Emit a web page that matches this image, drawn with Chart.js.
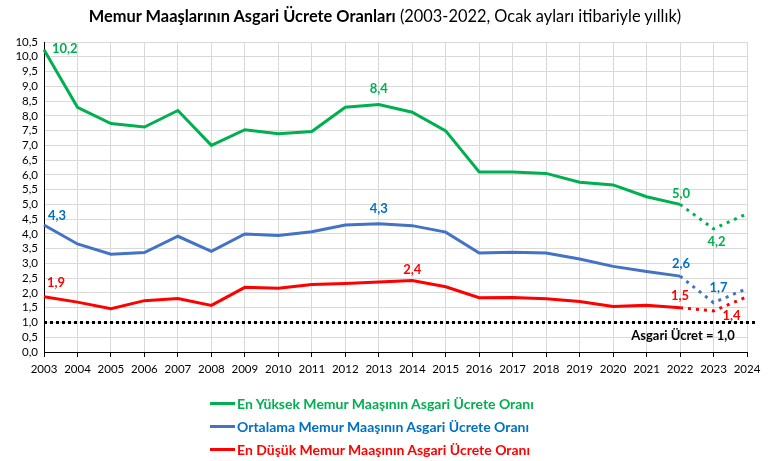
<!DOCTYPE html>
<html lang="tr">
<head>
<meta charset="UTF-8">
<title>Memur Maaşlarının Asgari Ücrete Oranları</title>
<script src="https://cdn.jsdelivr.net/npm/chart.js@4.4.0/dist/chart.umd.min.js"></script>
<style>
    body { margin: 0; background: #fff; font-family: Lato, "Open Sans", sans-serif; }
    #wrap { position: relative; width: 775px; height: 461px; }
    #title { position: absolute; top: 6px; left: 0; width: 770px; text-align: center; font-size: 16.4px; color: #000; white-space: nowrap; }
    #legend { position: absolute; left: 210px; top: 392px; }
    .row { display: flex; align-items: center; height: 23px; font-weight: bold; font-size: 14px; white-space: nowrap; }
    .sw { width: 25px; height: 3px; margin-right: 2px; }
</style>
</head>
<body>
<div id="wrap">
    <canvas id="chart" width="775" height="461"></canvas>
    <div id="title"><b>Memur Maaşlarının Asgari Ücrete Oranları</b> (2003-2022, Ocak ayları itibariyle yıllık)</div>
    <div id="legend">
        <div class="row" style="color:#00B050"><span class="sw" style="background:#00B050"></span>En Yüksek Memur Maaşının Asgari Ücrete Oranı</div>
        <div class="row" style="color:#0070C0"><span class="sw" style="background:#4472C4"></span>Ortalama Memur Maaşının Asgari Ücrete Oranı</div>
        <div class="row" style="color:#FF0000"><span class="sw" style="background:#FF0000"></span>En Düşük Memur Maaşının Asgari Ücrete Oranı</div>
    </div>
</div>
<script>
    // data
    var years = ['2003','2004','2005','2006','2007','2008','2009','2010','2011','2012','2013',
                 '2014','2015','2016','2017','2018','2019','2020','2021','2022','2023','2024'];
    var enYuksek = [10.24, 8.29, 7.74, 7.62, 8.18, 7.0, 7.53, 7.39, 7.47, 8.29, 8.38,
                    8.12, 7.49, 6.1, 6.1, 6.05, 5.75, 5.66, 5.26, 5.0, 4.17, 4.68];
    var ortalama = [4.3, 3.66, 3.31, 3.37, 3.92, 3.41, 4.0, 3.95, 4.07, 4.3, 4.34,
                    4.28, 4.06, 3.35, 3.38, 3.35, 3.15, 2.9, 2.73, 2.57, 1.67, 2.15];
    var enDusuk = [1.87, 1.69, 1.47, 1.74, 1.81, 1.58, 2.19, 2.16, 2.29, 2.32, 2.37,
                   2.42, 2.21, 1.84, 1.85, 1.8, 1.71, 1.54, 1.58, 1.5, 1.39, 1.87];
    var asgariUcret = 1.0;
    var projectionFrom = 19; // 2022 onward is drawn dotted

    // which points carry a value label: [dataset, index]
    var labelPoints = [[0,0],[0,10],[0,19],[0,20],[1,0],[1,10],[1,19],[1,20],[2,0],[2,11],[2,19],[2,20]];
    // label offsets from the point, in pixels
    var labelOffsets = {
        '0-0': [19, -1, 'left'], '0-10': [0, -16], '0-19': [1, -11], '0-20': [3, 13],
        '1-0': [13, -9], '1-10': [0, -15], '1-19': [1, -12], '1-20': [5, -15],
        '2-0': [12, -14], '2-11': [0, -11], '2-19': [0, -12], '2-20': [18, 5]
    };
    var labelColors = ['#00B050', '#0070C0', '#FF0000'];

    function fmt(v) { return v.toFixed(1).replace('.', ','); }

    function dotted(ctx) { return ctx.p0DataIndex >= projectionFrom ? [3, 5] : undefined; }

    var extras = {
        id: 'extras',
        afterDatasetsDraw: function(chart) {
            var c = chart.ctx, area = chart.chartArea, ys = chart.scales.y;
            c.save();
            // asgari ucret reference line
            var yy = ys.getPixelForValue(asgariUcret);
            c.strokeStyle = '#000';
            c.lineWidth = 3;
            c.setLineDash([3, 3]);
            c.beginPath();
            c.moveTo(area.left, yy);
            c.lineTo(area.right + 8, yy);
            c.stroke();
            c.setLineDash([]);
            c.font = 'bold 13px Lato, sans-serif';
            c.fillStyle = '#000';
            c.textAlign = 'center';
            c.textBaseline = 'middle';
            c.fillText('Asgari Ücret = ' + fmt(asgariUcret), area.right - 64, yy + 13);
            // value labels
            labelPoints.forEach(function(p) {
                var meta = chart.getDatasetMeta(p[0]);
                var pt = meta.data[p[1]];
                var off = labelOffsets[p[0] + '-' + p[1]];
                var v = chart.data.datasets[p[0]].data[p[1]];
                c.fillStyle = labelColors[p[0]];
                c.textAlign = off[2] ? off[2] : 'center';
                c.fillText(fmt(v), pt.x + (off[2] ? 8 : off[0]), pt.y + off[1]);
            });
            c.restore();
        }
    };

    new Chart(document.getElementById('chart'), {
        type: 'line',
        data: {
            labels: years,
            datasets: [
                { label: 'En Yüksek Memur Maaşının Asgari Ücrete Oranı', data: enYuksek, borderColor: '#00B050' },
                { label: 'Ortalama Memur Maaşının Asgari Ücrete Oranı', data: ortalama, borderColor: '#4472C4' },
                { label: 'En Düşük Memur Maaşının Asgari Ücrete Oranı', data: enDusuk, borderColor: '#FF0000' }
            ]
        },
        options: {
            responsive: false,
            animation: false,
            devicePixelRatio: 1,
            layout: { padding: { top: 42, left: 0, right: 28, bottom: 79 } },
            elements: {
                line: { borderWidth: 3, tension: 0, fill: false },
                point: { radius: 0 }
            },
            datasets: { line: { segment: { borderDash: dotted } } },
            plugins: { legend: { display: false }, tooltip: { enabled: false } },
            scales: {
                x: {
                    offset: false,
                    afterFit: function(s) { s.height = 30; },
                    grid: { color: '#d9d9d9', tickColor: '#000', tickLength: 5 },
                    border: { color: '#000', width: 1 },
                    ticks: { color: '#000', font: { family: 'Lato', size: 11.5 }, padding: 5, maxRotation: 0, autoSkip: false }
                },
                y: {
                    min: 0, max: 10.5,
                    afterFit: function(s) { s.width = 44; },
                    grid: { color: '#d9d9d9', drawTicks: false },
                    border: { color: '#000', width: 1 },
                    ticks: {
                        stepSize: 0.5, autoSkip: false, color: '#000', padding: 6,
                        font: { family: 'Lato', size: 11.5 },
                        callback: function(v) { return fmt(v); }
                    }
                }
            }
        },
        plugins: [extras]
    });
</script>
</body>
</html>
